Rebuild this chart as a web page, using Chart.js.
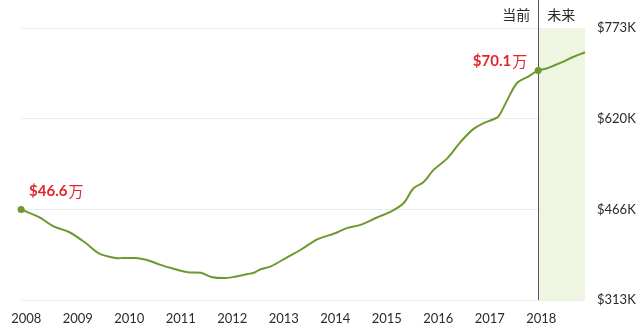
<!DOCTYPE html>
<html>
<head>
<meta charset="utf-8">
<script src="https://cdn.jsdelivr.net/npm/chart.js@4/dist/chart.umd.min.js"></script>
<style>
  html, body { margin: 0; padding: 0; background: #ffffff; }
  #wrap { width: 640px; height: 334px; position: relative; }
</style>
</head>
<body>
<div id="wrap"><canvas id="c" width="640" height="334"></canvas></div>
<script>
// Median home value, in thousands of dollars, by fractional year
const years = [2007.90, 2008.25, 2008.52, 2008.83, 2009.16, 2009.41, 2009.74, 2009.88, 2010.13, 2010.33,
  2010.56, 2010.81, 2011.14, 2011.39, 2011.59, 2011.84, 2012.03, 2012.30, 2012.42, 2012.55,
  2012.75, 2013.08, 2013.33, 2013.66, 2013.97, 2014.24, 2014.49, 2014.82, 2015.07, 2015.33,
  2015.52, 2015.71, 2015.91, 2016.18, 2016.43, 2016.68, 2016.88, 2017.15, 2017.21, 2017.34,
  2017.53, 2017.73, 2017.94, 2018.12, 2018.37, 2018.62, 2018.85];
const values = [466, 453, 438, 428, 409, 392, 384, 384, 384, 381,
  374, 367, 360, 359, 352, 350, 352, 357, 359, 365,
  370, 386, 398, 416, 425, 435, 440, 453, 462, 477,
  502, 512, 533, 553, 580, 602, 612, 622, 629, 651,
  680, 690, 701, 705, 714, 724, 732];

const yearTicks = [2008, 2009, 2010, 2011, 2012, 2013, 2014, 2015, 2016, 2017, 2018];
const valueTicks = [313, 466.33, 619.67, 773];
const valueTickLabels = ['$313K', '$466K', '$620K', '$773K'];

const nowYear = 2017.94;
const nowIndex = 42;
const startLabel = ['$46.6', '万'];
const nowLabel = ['$70.1', '万'];
const pastText = '当前';
const futureText = '未来';

const GREEN = '#6d9a2e';
const RED = '#e2262e';
const TEXT = '#2b2b2b';

const overlay = {
  id: 'overlay',
  beforeDatasetsDraw(chart) {
    const { ctx, chartArea, scales } = chart;
    const xNow = scales.x.getPixelForValue(nowYear);
    ctx.save();
    ctx.fillStyle = '#eef5e1';
    ctx.fillRect(xNow, chartArea.top, chartArea.right - xNow, chartArea.bottom - chartArea.top);
    ctx.strokeStyle = '#555555';
    ctx.lineWidth = 1;
    ctx.beginPath();
    ctx.moveTo(Math.round(xNow) + 0.5, 0);
    ctx.lineTo(Math.round(xNow) + 0.5, chartArea.bottom);
    ctx.stroke();
    ctx.fillStyle = TEXT;
    ctx.font = '14px "Noto Sans CJK SC"';
    ctx.textBaseline = 'middle';
    ctx.textAlign = 'right';
    ctx.fillText(pastText, xNow - 8, 15);
    ctx.textAlign = 'left';
    ctx.fillText(futureText, xNow + 9, 15);
    ctx.restore();
  },
  afterDatasetsDraw(chart) {
    const { ctx, scales } = chart;
    const drawLabel = (parts, x, y, align) => {
      ctx.save();
      ctx.fillStyle = RED;
      ctx.textBaseline = 'middle';
      ctx.font = 'bold 15px Lato, "Noto Sans", sans-serif';
      const w1 = ctx.measureText(parts[0]).width;
      ctx.font = '15px "Noto Sans CJK SC"';
      const w2 = ctx.measureText(parts[1]).width;
      let left = align === 'right' ? x - w1 - w2 : x;
      ctx.textAlign = 'left';
      ctx.font = 'bold 15px Lato, "Noto Sans", sans-serif';
      ctx.fillText(parts[0], left, y);
      ctx.font = '15px "Noto Sans CJK SC"';
      ctx.fillText(parts[1], left + w1 + 1, y);
      ctx.restore();
    };
    const x0 = scales.x.getPixelForValue(years[0]);
    const y0 = scales.y.getPixelForValue(values[0]);
    drawLabel(startLabel, x0 + 8, y0 - 18, 'left');
    const x1 = scales.x.getPixelForValue(years[nowIndex]);
    const y1 = scales.y.getPixelForValue(values[nowIndex]);
    drawLabel(nowLabel, x1 - 12, y1 - 9, 'right');
  }
};

new Chart(document.getElementById('c'), {
  type: 'line',
  data: {
    datasets: [{
      data: years.map((yr, i) => ({ x: yr, y: values[i] })),
      borderColor: GREEN,
      backgroundColor: GREEN,
      borderWidth: 2,
      tension: 0.35,
      clip: false,
      pointRadius: ctx => (ctx.dataIndex === 0 || ctx.dataIndex === nowIndex) ? 3.5 : 0,
      pointHoverRadius: 0,
      pointBorderWidth: 0
    }]
  },
  options: {
    responsive: false,
    animation: false,
    layout: { padding: { left: 20, top: 28, right: 0, bottom: 0 } },
    plugins: { legend: { display: false }, tooltip: { enabled: false } },
    scales: {
      x: {
        type: 'linear',
        min: 2007.9,
        max: 2018.85,
        afterBuildTicks: s => { s.ticks = yearTicks.map(v => ({ value: v })); },
        afterFit: s => { s.height = 34; },
        grid: { display: false, drawTicks: false },
        border: { display: false },
        ticks: {
          padding: 11,
          color: TEXT,
          font: { family: 'Lato', size: 13 },
          maxRotation: 0,
          autoSkip: false,
          callback: v => String(v)
        }
      },
      y: {
        position: 'right',
        min: 313,
        max: 773,
        afterBuildTicks: s => { s.ticks = valueTicks.map(v => ({ value: v })); },
        afterFit: s => { s.width = 55; },
        grid: { color: '#ececec', lineWidth: 1, drawTicks: false },
        border: { display: false },
        ticks: {
          padding: 12,
          color: TEXT,
          font: { family: 'Lato', size: 13 },
          callback: (v, i) => valueTickLabels[i]
        }
      }
    }
  },
  plugins: [overlay]
});
</script>
</body>
</html>
